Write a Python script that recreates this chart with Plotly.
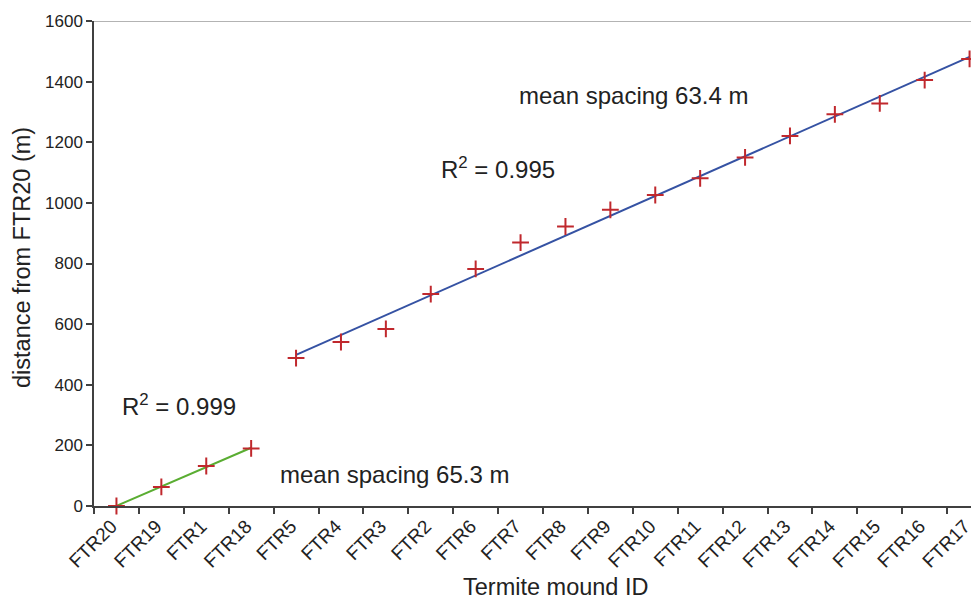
import numpy as np
import plotly.graph_objects as go

mounds = ["FTR20", "FTR19", "FTR1", "FTR18", "FTR5", "FTR4", "FTR3", "FTR2", "FTR6", "FTR7",
          "FTR8", "FTR9", "FTR10", "FTR11", "FTR12", "FTR13", "FTR14", "FTR15", "FTR16", "FTR17"]
distance = [0, 63, 132, 190, 488, 541, 584, 699, 782, 869,
            922, 977, 1026, 1081, 1150, 1221, 1292, 1328, 1405, 1475]
group_a = mounds[:4]
group_b = mounds[4:]
y_ticks = [0, 200, 400, 600, 800, 1000, 1200, 1400, 1600]

idx = np.arange(len(mounds))
fa = np.polyfit(idx[:4], distance[:4], 1)
fb = np.polyfit(idx[4:], distance[4:], 1)

font = "Liberation Sans, Arial, sans-serif"
fig = go.Figure()
fig.add_trace(go.Scatter(x=group_a, y=np.polyval(fa, idx[:4]), mode="lines",
                         line=dict(color="#5aad32", width=2), showlegend=False))
fig.add_trace(go.Scatter(x=group_b, y=np.polyval(fb, idx[4:]), mode="lines",
                         line=dict(color="#3552a3", width=2), showlegend=False))
fig.add_trace(go.Scatter(x=mounds, y=distance, mode="markers",
                         marker=dict(symbol="cross-thin", size=12,
                                     line=dict(color="#c0282d", width=2)),
                         showlegend=False, cliponaxis=False))

# plot area in page pixels: x 94..979, y 21..506 (page has an 8px body margin)
def px(xpix):
    return (xpix - 94) / 885

def py(ypix):
    return (506 - ypix) / 485

ann = dict(showarrow=False, xanchor="center", yanchor="middle", font=dict(size=24))
fig.update_layout(
    width=971, height=592,
    margin=dict(l=86, r=0, t=13, b=94),
    paper_bgcolor="white", plot_bgcolor="white",
    font=dict(family=font, color="#222222"),
    xaxis=dict(type="category", categoryorder="array", categoryarray=mounds,
               range=[-0.5, 19.21], tickson="boundaries", ticks="outside", ticklen=6,
               tickcolor="#404040", tickwidth=1.5, showline=True, linecolor="#404040",
               linewidth=1.5, showgrid=False, tickangle=-45, tickfont=dict(size=19),
               ticklabelshift=-5, automargin=False),
    yaxis=dict(range=[0, 1600], tickvals=y_ticks, ticks="outside", ticklen=6,
               tickcolor="#404040", tickwidth=1.5, showline=True, linecolor="#404040",
               linewidth=1.5, showgrid=False, zeroline=False, tickfont=dict(size=17),
               automargin=False),
    shapes=[dict(type="line", xref="paper", yref="y", x0=0, x1=1, y0=1600, y1=1600,
                 line=dict(color="#9a9a9a", width=1.5))],
    annotations=[
        dict(text="mean spacing 63.4 m", xref="paper", yref="paper", x=px(633), y=py(95), **ann),
        dict(text="R<sup>2</sup> = 0.995", xref="paper", yref="paper", x=px(498), y=py(168), **ann),
        dict(text="R<sup>2</sup> = 0.999", xref="paper", yref="paper", x=px(179), y=py(405), **ann),
        dict(text="mean spacing 65.3 m", xref="paper", yref="paper", x=px(394), y=py(474), **ann),
        dict(text="Termite mound ID", xref="paper", yref="paper", x=px(555), y=py(587),
             showarrow=False, xanchor="center", yanchor="middle", font=dict(size=23.5)),
        dict(text="distance from FTR20 (m)", xref="paper", yref="paper", x=px(22), y=py(258),
             textangle=-90, showarrow=False, xanchor="center", yanchor="middle",
             font=dict(size=23.5)),
    ],
)
fig.write_html("out.html")
